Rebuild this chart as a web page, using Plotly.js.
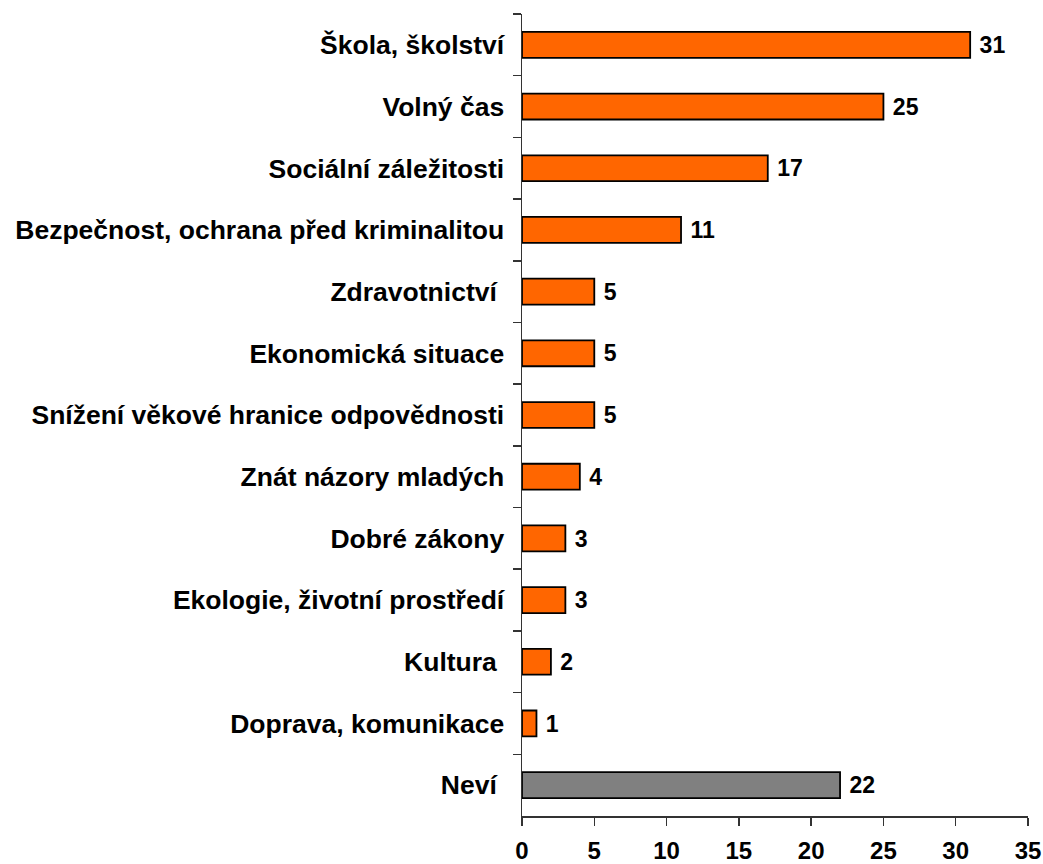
<!DOCTYPE html>
<html>
<head>
<meta charset="utf-8">
<script src="https://cdn.plot.ly/plotly-3.0.1.min.js"></script>
<style>html,body{margin:0;padding:0;background:#fff;}#chart{width:1043px;height:864px;}</style>
</head>
<body>
<div id="chart"></div>
<script>
const categories = [
  "Škola, školství",
  "Volný čas",
  "Sociální záležitosti",
  "Bezpečnost, ochrana před kriminalitou",
  "Zdravotnictví\u00A0",
  "Ekonomická situace",
  "Snížení věkové hranice odpovědnosti",
  "Znát názory mladých",
  "Dobré zákony",
  "Ekologie, životní prostředí",
  "Kultura\u00A0",
  "Doprava, komunikace",
  "Neví\u00A0"
];
const values = [31, 25, 17, 11, 5, 5, 5, 4, 3, 3, 2, 1, 22];
const barColors = ["#FF6600","#FF6600","#FF6600","#FF6600","#FF6600","#FF6600","#FF6600","#FF6600","#FF6600","#FF6600","#FF6600","#FF6600","#808080"];
const xTicks = [0, 5, 10, 15, 20, 25, 30, 35];

const font = "Liberation Sans, Arial, sans-serif";

const trace = {
  type: "bar",
  orientation: "h",
  y: categories,
  x: values,
  marker: {color: barColors, line: {color: "#000000", width: 1.8}},
  text: values.map(v => "\u00A0" + v),
  textposition: "outside",
  cliponaxis: false,
  textfont: {family: font, size: 24, color: "#000", weight: "bold"},
  hoverinfo: "none"
};

const layout = {
  width: 1043,
  height: 864,
  margin: {l: 522, r: 15, t: 14, b: 48, pad: 0},
  paper_bgcolor: "#ffffff",
  plot_bgcolor: "#ffffff",
  showlegend: false,
  bargap: 0.58,
  font: {family: font, color: "#000"},
  xaxis: {
    range: [0, 35],
    tickvals: xTicks,
    ticktext: xTicks.map(String),
    showgrid: false,
    zeroline: false,
    showline: true,
    linecolor: "#333",
    linewidth: 1.5,
    ticks: "outside",
    ticklen: 8,
    tickwidth: 1.5,
    tickcolor: "#333",
    ticklabelstandoff: 5,
    tickfont: {family: font, size: 24, color: "#000", weight: "bold"},
    fixedrange: true
  },
  yaxis: {
    type: "category",
    categoryorder: "array",
    categoryarray: categories,
    autorange: "reversed",
    tickson: "boundaries",
    showgrid: false,
    zeroline: false,
    showline: true,
    linecolor: "#333",
    linewidth: 1.5,
    ticks: "outside",
    ticklen: 8,
    tickwidth: 1.5,
    tickcolor: "#333",
    ticklabelstandoff: 11,
    tickfont: {family: font, size: 26.5, color: "#000", weight: "bold"},
    fixedrange: true
  }
};

Plotly.newPlot("chart", [trace], layout, {displayModeBar: false, staticPlot: true});
</script>
</body>
</html>
